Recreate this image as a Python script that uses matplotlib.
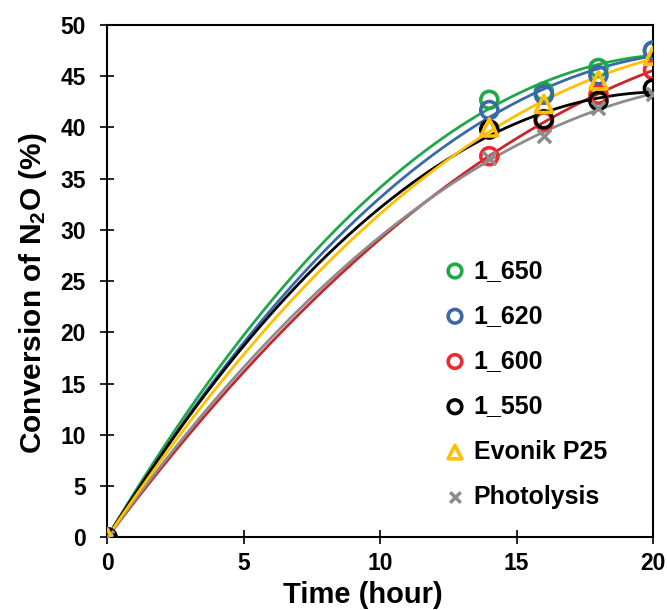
import numpy as np
import matplotlib
matplotlib.use("Agg")
import matplotlib.pyplot as plt

# time points (hour)
time = [0, 14, 16, 18, 20]

# conversion of N2O (%)
s_650 = [0, 42.7, 43.5, 45.8, 47.5]
s_620 = [0, 41.7, 43.2, 45.1, 47.5]
s_600 = [0, 37.2, 40.6, 43.2, 45.6]
s_550 = [0, 39.8, 40.8, 42.6, 43.8]
p25 = [0, 40.0, 42.3, 44.6, 47.0]
photolysis = [0, 37.0, 39.2, 41.9, 43.3]

labels = ['1_650', '1_620', '1_600', '1_550', 'Evonik P25', 'Photolysis']

plt.rcParams['font.family'] = ['Liberation Sans', 'DejaVu Sans']
plt.rcParams['font.weight'] = 'bold'
plt.rcParams['mathtext.fontset'] = 'custom'
plt.rcParams['mathtext.rm'] = 'Liberation Sans:bold'
plt.rcParams['mathtext.bf'] = 'Liberation Sans:bold'
plt.rcParams['mathtext.it'] = 'Liberation Sans:bold'

fig = plt.figure(figsize=(6.67, 6.10), dpi=100)
ax = fig.add_axes([0.161, 0.119, 0.818, 0.840])

series = [
    (s_650, '#1FA84A', '#1FA84A', 'o'),
    (s_620, '#3A68A8', '#3A68A8', 'o'),
    (s_600, '#C8262C', '#EE2A30', 'o'),
    (s_550, '#000000', '#000000', 'o'),
    (photolysis, '#8C8C8C', '#8C8C8C', 'x'),
    (p25, '#FFC000', '#FFC000', '^'),
]
order_labels = ['1_650', '1_620', '1_600', '1_550', 'Photolysis', 'Evonik P25']

tt = np.linspace(0, 20, 200)
handles = {}
for (vals, lcol, mcol, mk), lab in zip(series, order_labels):
    # polynomial trendline as in the original spreadsheet chart
    coef = np.polyfit(time, vals, 2)
    ax.plot(tt, np.polyval(coef, tt), color=lcol, lw=2.0, zorder=2)
    if mk == 'x':
        h = ax.scatter(time, vals, marker='x', s=90, color=mcol, linewidths=2.5, zorder=3, label=lab)
    else:
        h = ax.scatter(time, vals, marker=mk, s=150, facecolors='none', edgecolors=mcol,
                       linewidths=2.6, zorder=3, label=lab)
    handles[lab] = h

ax.set_xlim(0, 20)
ax.set_ylim(0, 50)
ax.set_xticks([0, 5, 10, 15, 20])
ax.set_yticks(range(0, 51, 5))
ax.tick_params(direction='inout', length=10, width=1.2, labelsize=16.5)
ax.tick_params(axis='x', pad=5.5)
ax.tick_params(axis='y', pad=10.5)
for s in ax.spines.values():
    s.set_linewidth(1.5)

ax.set_xlabel('Time (hour)', fontsize=21, fontweight='bold', labelpad=4)
ax.set_ylabel('Conversion of N$_2$O (%)', fontsize=21.5, fontweight='bold', labelpad=8)
ax.xaxis.label.set_x(0.469)
ax.yaxis.label.set_y(0.476)

leg = ax.legend([handles[l] for l in labels], labels, loc='center left',
                bbox_to_anchor=(0.55, 0.30), frameon=False, fontsize=18,
                handletextpad=-0.25, labelspacing=0.85, markerscale=0.8)

fig.savefig('out.png', dpi=100)
